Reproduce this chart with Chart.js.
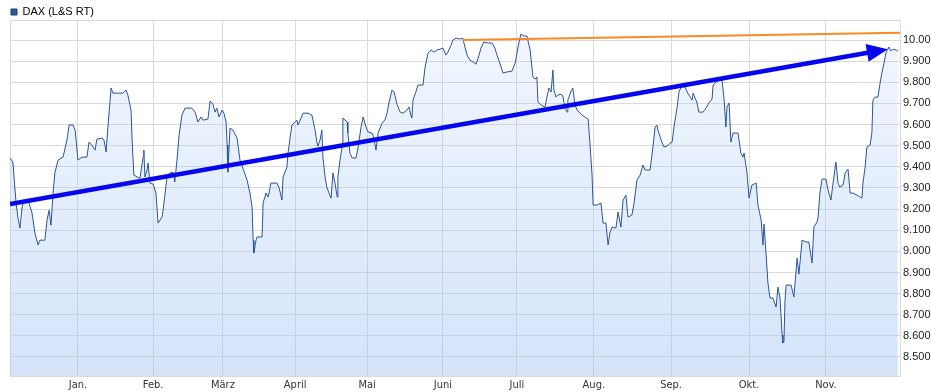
<!DOCTYPE html>
<html lang="de">
<head>
<meta charset="utf-8">
<title>DAX (L&amp;S RT)</title>
<script src="https://cdn.jsdelivr.net/npm/chart.js@4/dist/chart.umd.min.js"></script>
<style>
  html, body { margin: 0; padding: 0; background: #fff; }
  #box { width: 931px; height: 392px; position: relative; }
</style>
</head>
<body>
<div id="box"><canvas id="daxGraf"></canvas></div>
<script>
// Handelstage (Index ab Anfang Dezember) und Kurs
const tage = [
  0.0, 0.8, 1.7, 2.2, 2.8, 3.4, 3.7, 5.1, 6.2, 7.0, 7.9, 8.4, 9.8, 10.4, 11.0, 11.5, 12.1, 12.6, 13.5, 14.9,
  16.0, 16.6, 17.7, 18.3, 19.1, 20.2, 21.6, 22.2, 23.0, 23.9, 24.4, 25.8, 26.4, 27.0, 27.5, 28.4, 28.9, 31.7, 32.6, 33.1,
  34.0, 34.3, 34.8, 35.7, 36.5, 37.4, 37.6, 37.9, 38.5, 38.8, 39.3, 40.2, 41.0, 41.6, 42.7, 43.0, 43.5, 44.1, 44.9, 45.8,
  46.3, 46.9, 47.5, 48.3, 49.2, 51.1, 52.0, 52.8, 53.7, 54.2, 55.6, 56.2, 57.0, 57.6, 58.1, 58.7, 59.6, 60.1, 60.7, 61.0,
  61.2, 61.8, 62.6, 63.8, 64.6, 65.4, 66.6, 67.4, 68.0, 68.3, 68.5, 69.1, 69.4, 70.8, 71.1, 71.9, 72.5, 73.3, 75.0, 75.6,
  76.4, 76.7, 77.8, 78.1, 78.7, 79.2, 80.1, 80.6, 80.9, 81.5, 82.3, 83.7, 84.8, 85.1, 85.7, 86.2, 86.5, 87.1, 87.6, 87.9,
  88.5, 89.0, 89.6, 90.2, 90.7, 91.3, 91.9, 92.1, 92.7, 93.3, 93.5, 94.7, 94.9, 95.5, 96.1, 97.2, 97.8, 98.6, 99.2, 100.0,
  100.6, 101.7, 102.2, 102.8, 103.4, 104.5, 105.3, 105.9, 106.5, 107.3, 107.9, 108.7, 109.6, 110.4, 111.5, 112.1, 112.6, 112.9, 113.2, 114.0,
  114.6, 116.0, 116.6, 117.4, 118.3, 119.1, 119.9, 120.8, 121.6, 122.5, 123.0, 123.9, 124.4, 125.3, 126.4, 127.2, 127.8, 128.4, 129.2, 130.1,
  130.9, 131.5, 132.3, 133.1, 134.3, 135.4, 136.2, 136.8, 137.6, 138.5, 139.6, 141.0, 141.9, 142.4, 143.0, 143.5, 144.4, 145.2, 146.1, 146.9,
  147.5, 148.0, 148.3, 149.2, 150.3, 150.8, 151.4, 152.0, 152.5, 152.8, 153.4, 153.9, 154.8, 155.3, 155.9, 156.5, 156.7, 157.6, 158.1, 158.7,
  159.3, 160.7, 161.5, 162.4, 162.9, 163.5, 163.8, 164.9, 166.0, 166.6, 167.4, 168.0, 168.5, 169.1, 170.2, 170.8, 171.6, 172.2, 173.0, 173.6,
  174.7, 175.3, 176.1, 177.0, 177.8, 178.4, 179.8, 180.6, 181.2, 181.7, 182.0, 183.1, 183.7, 184.6, 185.4, 186.0, 186.5, 187.4, 187.9, 188.8,
  189.6, 190.4, 191.6, 191.9, 193.0, 193.5, 194.7, 195.5, 196.3, 197.2, 197.5, 198.3, 199.2, 200.0, 200.6, 201.1, 201.4, 202.0, 202.5, 203.1,
  204.5, 205.3, 205.9, 206.2, 207.0, 207.3, 207.6, 208.4, 209.6, 210.1, 211.0, 211.5, 211.8, 212.4, 212.9, 213.5, 214.3, 215.2, 215.7, 216.3,
  216.9, 217.1, 217.4, 217.7, 218.0, 219.4, 220.2, 221.1, 221.6, 222.5, 223.6, 224.4, 225.3, 225.8, 226.7, 227.0, 227.5, 228.1, 229.2, 229.8,
  230.6, 231.2, 232.0, 232.6, 233.1, 234.0, 234.6, 235.4, 236.0, 236.8, 237.9, 238.8, 239.3, 239.6, 240.2, 240.7, 241.6, 242.1, 242.4, 243.0,
  243.8, 244.4, 244.9, 245.5, 246.1, 246.6, 246.9, 247.5, 248.0, 248.9, 249.4
];
const kurs = [
  9442, 9423, 9229, 9162, 9110, 9210, 9229, 9243, 9181, 9087, 9030, 9053, 9053, 9148, 9195, 9124, 9276, 9371, 9432, 9446,
  9527, 9598, 9598, 9574, 9432, 9446, 9446, 9517, 9503, 9479, 9531, 9536, 9527, 9470, 9588, 9773, 9749, 9749, 9763, 9740,
  9669, 9527, 9361, 9352, 9347, 9446, 9479, 9352, 9385, 9418, 9323, 9318, 9276, 9134, 9162, 9195, 9266, 9352, 9371, 9375,
  9328, 9432, 9550, 9645, 9678, 9678, 9659, 9612, 9636, 9621, 9626, 9711, 9697, 9659, 9678, 9636, 9669, 9654, 9612, 9503,
  9375, 9583, 9574, 9536, 9432, 9394, 9337, 9276, 9210, 9053, 8992, 9053, 9068, 9068, 9229, 9276, 9257, 9323, 9323, 9300,
  9243, 9352, 9399, 9465, 9541, 9598, 9612, 9621, 9598, 9621, 9654, 9654, 9645, 9621, 9574, 9517, 9498, 9527, 9574, 9446,
  9352, 9304, 9276, 9252, 9371, 9323, 9257, 9352, 9432, 9494, 9631, 9612, 9560, 9465, 9442, 9442, 9494, 9588, 9636, 9588,
  9565, 9560, 9541, 9479, 9560, 9607, 9621, 9654, 9707, 9763, 9754, 9697, 9659, 9654, 9669, 9683, 9645, 9631, 9716, 9754,
  9787, 9787, 9872, 9938, 9953, 9943, 9953, 9957, 9962, 9929, 9943, 9976, 10000, 10009, 10005, 10009, 9967, 9929, 9905, 9896,
  9886, 9915, 9962, 9991, 9986, 9986, 9962, 9929, 9891, 9844, 9849, 9853, 9891, 9938, 9991, 10028, 10019, 10019, 9953, 9825,
  9815, 9825, 9707, 9692, 9683, 9730, 9773, 9754, 9858, 9763, 9730, 9740, 9744, 9735, 9678, 9659, 9716, 9759, 9773, 9692,
  9669, 9645, 9636, 9626, 9512, 9361, 9219, 9219, 9229, 9134, 9134, 9030, 9087, 9115, 9110, 9186, 9115, 9243, 9266, 9162,
  9172, 9229, 9337, 9361, 9408, 9385, 9385, 9494, 9588, 9598, 9574, 9517, 9494, 9498, 9512, 9517, 9588, 9683, 9754, 9787,
  9778, 9749, 9716, 9749, 9702, 9659, 9659, 9678, 9702, 9721, 9787, 9801, 9811, 9811, 9716, 9588, 9683, 9702, 9517, 9560,
  9560, 9465, 9446, 9465, 9375, 9314, 9252, 9314, 9323, 9219, 9148, 9030, 9129, 8982, 8850, 8779, 8779, 8736, 8831, 8779,
  8604, 8566, 8571, 8769, 8840, 8840, 8784, 8968, 8892, 9053, 9044, 9044, 8945, 9115, 9139, 9162, 9276, 9342, 9342, 9290,
  9243, 9323, 9423, 9323, 9304, 9314, 9371, 9389, 9276, 9276, 9266, 9257, 9252, 9323, 9399, 9494, 9503, 9560, 9716, 9730,
  9730, 9796, 9844, 9891, 9943, 9957, 9967, 9948, 9957, 9953, 9948
];

// Monatsanfaenge auf der Handelstag-Achse
const monate = ['Jan.', 'Feb.', 'März', 'April', 'Mai', 'Juni', 'Juli', 'Aug.', 'Sep.', 'Okt.', 'Nov.'];
const monatsAnfang = [19.1, 40.2, 59.8, 80.1, 100.3, 121.6, 142.4, 164.0, 185.7, 207.6, 229.2];
const tageMax = 250;

// y-Achse
const yTicks = [8500, 8600, 8700, 8800, 8900, 9000, 9100, 9200, 9300, 9400, 9500, 9600, 9700, 9800, 9900, 10000];
const yMin = 8410;
const yMax = 10095;

// Trendpfeil (blau) und Widerstandslinie (orange)
const trendTage = [0, 244.9];
const trendKurs = [9224, 9952];
const widerstandTage = [127.2, 250];
const widerstandKurs = [10000, 10035];

const linienFarbe = '#2a5599';
const pfeilFarbe = '#0505ee';
const gitterFarbe = '#dadada';

Chart.defaults.font.family = '"Liberation Sans", Arial, sans-serif';

function punkte(xs, ys) {
  return xs.map((x, i) => ({ x: x, y: ys[i] }));
}

// Legende etwas flacher machen
const legendeHoehe = {
  id: 'legendeHoehe',
  beforeLayout(chart) {
    const lg = chart.legend;
    if (lg && !lg._flach) {
      const fit = lg.fit;
      lg.fit = function () { fit.call(this); this.height = 14.5; };
      lg._flach = true;
    }
  }
};

// Pfeilspitze am Ende der Trendlinie
const pfeilSpitze = {
  id: 'pfeilSpitze',
  afterDatasetsDraw(chart) {
    const pts = chart.getDatasetMeta(2).data;
    const a = pts[0], b = pts[pts.length - 1];
    const ang = Math.atan2(b.y - a.y, b.x - a.x);
    const ctx = chart.ctx;
    ctx.save();
    ctx.translate(b.x, b.y);
    ctx.rotate(ang);
    ctx.beginPath();
    ctx.moveTo(6, 0);
    ctx.lineTo(-15, -9);
    ctx.lineTo(-15, 9);
    ctx.closePath();
    ctx.fillStyle = pfeilFarbe;
    ctx.fill();
    ctx.restore();
  }
};

function flaeche(context) {
  const area = context.chart.chartArea;
  if (!area) return 'rgba(170,200,245,0.3)';
  const g = context.chart.ctx.createLinearGradient(0, area.top, 0, area.bottom);
  g.addColorStop(0, 'rgba(170,200,245,0.14)');
  g.addColorStop(1, 'rgba(170,200,245,0.5)');
  return g;
}

const ctx = document.getElementById('daxGraf').getContext('2d');
const graf = new Chart(ctx, {
  type: 'line',
  data: {
    datasets: [
      {
        label: 'DAX (L&S RT)',
        data: punkte(tage, kurs),
        borderColor: linienFarbe,
        borderWidth: 1,
        backgroundColor: flaeche,
        fill: 'start',
        pointRadius: 0,
        tension: 0,
        order: 2
      },
      {
        label: 'Widerstand',
        data: punkte(widerstandTage, widerstandKurs),
        borderColor: '#fb8a22',
        borderWidth: 2,
        pointRadius: 0,
        fill: false,
        order: 1
      },
      {
        label: 'Trend',
        data: punkte(trendTage, trendKurs),
        borderColor: pfeilFarbe,
        borderWidth: 4.5,
        pointRadius: 0,
        fill: false,
        order: 0
      }
    ]
  },
  options: {
    responsive: true,
    maintainAspectRatio: false,
    animation: false,
    layout: { padding: { top: 5.5, left: 10, right: 0, bottom: 0 } },
    plugins: {
      tooltip: { enabled: false },
      legend: {
        position: 'top',
        align: 'start',
        labels: {
          boxWidth: 6,
          boxHeight: 6,
          padding: 1,
          color: '#222',
          font: { size: 11 },
          generateLabels: () => [{
            text: 'DAX (L&S RT)',
            fillStyle: '#2c5a9e',
            strokeStyle: '#1d3f78',
            lineWidth: 1,
            datasetIndex: 0
          }]
        }
      }
    },
    scales: {
      x: {
        type: 'linear',
        min: 0,
        max: tageMax,
        afterBuildTicks: (scale) => {
          scale.ticks = [0, ...monatsAnfang, tageMax].map(v => ({ value: v }));
        },
        afterFit: (scale) => { scale.height = 16; },
        ticks: {
          autoSkip: false,
          maxRotation: 0,
          padding: 3,
          color: '#333',
          font: { family: '"Liberation Sans Narrow", "DejaVu Sans Condensed", sans-serif', size: 11 },
          callback: (value) => {
            const i = monatsAnfang.indexOf(value);
            return i >= 0 ? monate[i] : '';
          }
        },
        grid: { color: gitterFarbe, drawTicks: false },
        border: { color: gitterFarbe }
      },
      y: {
        position: 'right',
        min: yMin,
        max: yMax,
        afterBuildTicks: (scale) => {
          scale.ticks = [...yTicks, yMax].map(v => ({ value: v }));
        },
        afterFit: (scale) => { scale.width = 31; },
        ticks: {
          padding: 3,
          color: '#222',
          font: { size: 11 },
          callback: (value) => yTicks.includes(value) ? value.toLocaleString('de-DE') : ''
        },
        grid: { color: gitterFarbe, drawTicks: false },
        border: { color: gitterFarbe }
      }
    }
  },
  plugins: [legendeHoehe, pfeilSpitze]
});
</script>
</body>
</html>
